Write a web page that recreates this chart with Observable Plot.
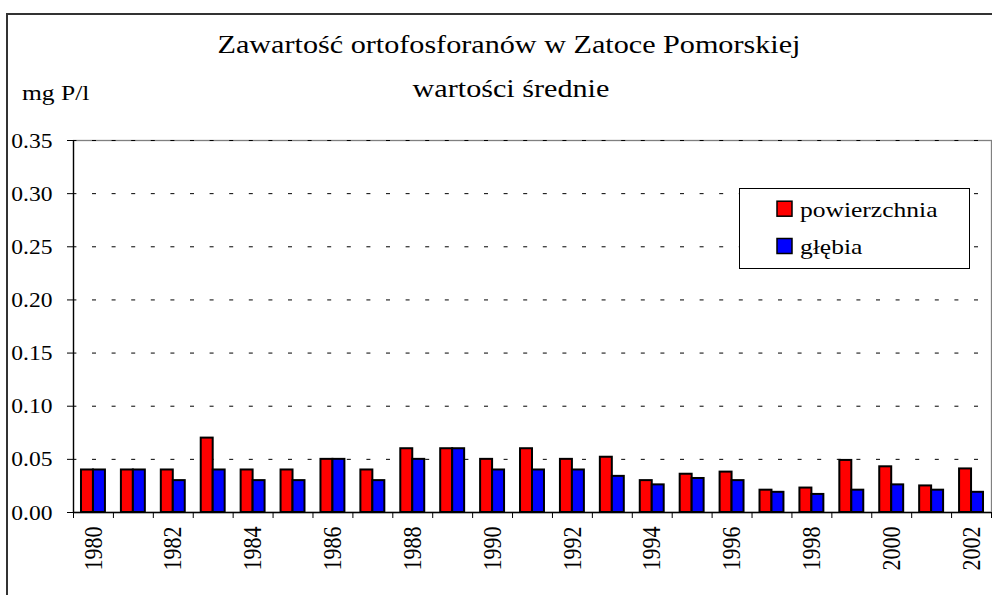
<!DOCTYPE html>
<html><head><meta charset="utf-8">
<script src="https://cdn.jsdelivr.net/npm/d3@7"></script>
<script src="https://cdn.jsdelivr.net/npm/@observablehq/plot@0.6"></script>
<style>
body{margin:0;background:#fff;}
#wrap{position:relative;width:992px;height:595px;overflow:hidden;font-family:"Liberation Serif","Times New Roman",serif;}
#frame{position:absolute;left:6px;top:13px;width:1100px;height:700px;border:2px solid #333;}
#chart{position:absolute;left:0;top:0;}
</style></head><body>
<div id="wrap"><div id="frame"></div><div id="chart"></div></div>
<script>
const years = [1980,1981,1982,1983,1984,1985,1986,1987,1988,1989,1990,1991,1992,1993,1994,1995,1996,1997,1998,1999,2000,2001,2002];
const powierzchnia = [0.040,0.040,0.040,0.070,0.040,0.040,0.050,0.040,0.060,0.060,0.050,0.060,0.050,0.052,0.030,0.036,0.038,0.021,0.023,0.049,0.043,0.025,0.041];
const glebia = [0.040,0.040,0.030,0.040,0.030,0.030,0.050,0.030,0.050,0.060,0.040,0.040,0.040,0.034,0.026,0.032,0.030,0.019,0.017,0.021,0.026,0.021,0.019];
const seriesNames = ["powierzchnia","głębia"];
const seriesColors = ["#ff0000","#0000ff"];
const yTicks = [0,0.05,0.10,0.15,0.20,0.25,0.30,0.35];
const xLabelYears = years.filter((d,i)=>i%2===0);
const titleText = "Zawartość ortofosforanów w Zatoce Pomorskiej";
const subtitleText = "wartości średnie";
const unitText = "mg P/l";

const W=992,H=595,mL=73,mR=1,mT=140,mB=83;
const bw=(W-mL-mR)/years.length;
const STRETCH=1.16;

const data = years.flatMap((y,i)=>[
  {year:y,series:seriesNames[0],value:powierzchnia[i]},
  {year:y,series:seriesNames[1],value:glebia[i]}
]);

const chart = Plot.plot({
  width:W,height:H,marginLeft:mL,marginRight:mR,marginTop:mT,marginBottom:mB,
  style:{fontFamily:"'Liberation Serif','Times New Roman',serif",fontSize:"22px",color:"#000",background:"transparent",overflow:"visible"},
  x:{type:"band",domain:years,padding:0,round:false,label:null},
  y:{domain:[0,0.35],label:null},
  color:{domain:seriesNames,range:seriesColors},
  marks:[
    Plot.frame({stroke:"#808080",strokeWidth:1.3}),
    Plot.ruleY(yTicks.slice(1),{stroke:"#000",strokeWidth:1,strokeDasharray:"4,15.6",strokeDashoffset:0.6}),
    Plot.barY(data.filter(d=>d.series===seriesNames[0]),{x:"year",y:"value",fill:"series",stroke:"#000",strokeWidth:2,insetLeft:bw*0.2,insetRight:bw*0.5}),
    Plot.barY(data.filter(d=>d.series===seriesNames[1]),{x:"year",y:"value",fill:"series",stroke:"#000",strokeWidth:2,insetLeft:bw*0.5,insetRight:bw*0.2}),
    Plot.ruleY([0],{stroke:"#000",strokeWidth:1.3}),
    Plot.ruleX([years[0]],{dx:-bw/2,stroke:"#000",strokeWidth:1.3}),
    Plot.axisY({ticks:yTicks,tickFormat:d=>d.toFixed(2),tickSize:6,tickPadding:15,label:null}),
    Plot.axisX({ticks:years,tickFormat:()=>"",tickSize:6,dx:-bw/2,label:null}),
    Plot.axisX({ticks:[years[years.length-1]],tickFormat:()=>"",tickSize:6,dx:bw/2,label:null}),
    Plot.axisX({ticks:xLabelYears,tickFormat:d=>String(d),tickSize:0,tickRotate:-90,tickPadding:14,label:null})
  ]
});
document.getElementById("chart").appendChild(chart);

const svg = d3.select(chart);
function stretch(el,k){
  const len = el.getComputedTextLength();
  el.setAttribute("textLength",len*k);
  el.setAttribute("lengthAdjust","spacingAndGlyphs");
}
svg.selectAll("[aria-label='y-axis tick label'] text").each(function(){stretch(this,1.07);});
svg.selectAll("[aria-label='x-axis tick label'] text").each(function(){
  const t=this.getAttribute("transform")||"";
  this.setAttribute("transform",t+" scale(1,"+STRETCH+")");
});

const fam="'Liberation Serif','Times New Roman',serif";
function addText(parent,str,x,y,size,anchor){
  const t=parent.append("text").attr("x",x).attr("y",y).attr("font-size",size).attr("font-family",fam)
    .attr("text-anchor",anchor).attr("fill","#000").text(str);
  stretch(t.node(),STRETCH);
  return t;
}
addText(svg,titleText,509,53,26,"middle");
addText(svg,subtitleText,511,97,26,"middle");
addText(svg,unitText,22,100,22,"start");

const lg=svg.append("g");
lg.append("rect").attr("x",739.5).attr("y",188.5).attr("width",230).attr("height",80).attr("fill","#fff").attr("stroke","#000").attr("stroke-width",1);
seriesNames.forEach((n,i)=>{
  const yy=[208.7,246][i];
  lg.append("rect").attr("x",777).attr("y",yy-7.5).attr("width",15).attr("height",15).attr("fill",seriesColors[i]).attr("stroke","#000").attr("stroke-width",1.5);
  addText(lg,n,800,yy+8,22,"start");
});
</script>
</body></html>
